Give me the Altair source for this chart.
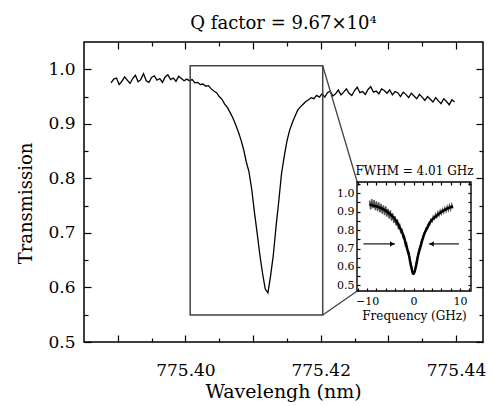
import altair as alt
import pandas as pd

# ---------------- data ----------------
# main spectrum: sampled every 0.0004 nm starting at 775.389 nm
WL_START = 775.389
WL_STEP = 0.0004
transmission = [
    0.975, 0.982, 0.984, 0.972, 0.978, 0.986, 0.980, 0.974, 0.983, 0.989,
    0.977, 0.981, 0.992, 0.979, 0.976, 0.985, 0.988, 0.980, 0.983, 0.976,
    0.986, 0.990, 0.981, 0.984, 0.978, 0.987, 0.983, 0.979,
    0.982, 0.979, 0.981, 0.975, 0.976, 0.972, 0.973, 0.969, 0.970, 0.964,
    0.960, 0.957, 0.950, 0.945, 0.936, 0.930, 0.921, 0.911, 0.899, 0.886,
    0.871, 0.853, 0.830, 0.812, 0.780, 0.738, 0.700, 0.660, 0.626, 0.597,
    0.590, 0.622, 0.660, 0.712, 0.758, 0.808, 0.840, 0.868, 0.888, 0.902,
    0.914, 0.925, 0.931, 0.936, 0.941, 0.944, 0.948, 0.946, 0.952, 0.949,
    0.955,
    0.949, 0.957, 0.960, 0.951, 0.955, 0.962, 0.953, 0.958, 0.964, 0.956,
    0.952, 0.961, 0.967, 0.957, 0.959, 0.954, 0.963, 0.968, 0.958, 0.960,
    0.955, 0.964, 0.961, 0.956, 0.962, 0.953, 0.959, 0.957, 0.950, 0.958,
    0.954, 0.948, 0.956, 0.951, 0.946, 0.954, 0.949, 0.943, 0.950, 0.945,
    0.940, 0.948, 0.942, 0.937, 0.946, 0.941, 0.935, 0.944, 0.940,
]
wavelength = [round(WL_START + WL_STEP * i, 4) for i in range(len(transmission))]

# zoom box and connector lines (main-axis coordinates)
box_x = [775.4007, 775.4203]
box_y = [0.5494, 1.0064]
conn_x1 = [775.4203, 775.4203]
conn_y1 = [1.0064, 0.5494]
conn_x2 = [775.4254, 775.4254]
conn_y2 = [0.7933, 0.5935]

# inset: measured points (every 0.25 GHz from -9.5 GHz)
F_START = -9.5
F_STEP = 0.25
inset_meas = [
    0.960, 0.912, 0.968, 0.918, 0.962, 0.908, 0.955, 0.902, 0.950, 0.896,
    0.942, 0.889, 0.934, 0.881, 0.928, 0.873, 0.915, 0.862, 0.906, 0.851,
    0.891, 0.838, 0.875, 0.824, 0.858, 0.804, 0.835, 0.782, 0.808, 0.754,
    0.773, 0.718, 0.728, 0.676, 0.678, 0.624, 0.618, 0.564, 0.568, 0.580,
    0.616, 0.646, 0.666, 0.700, 0.716, 0.747, 0.752, 0.783, 0.782, 0.810,
    0.805, 0.835, 0.829, 0.856, 0.846, 0.874, 0.862, 0.886, 0.870, 0.897,
    0.879, 0.905, 0.887, 0.912, 0.896, 0.919, 0.901, 0.927, 0.907, 0.933,
    0.912, 0.938, 0.917,
]
inset_freq = [F_START + F_STEP * i for i in range(len(inset_meas))]

# inset: fitted curve
fit_freq = [-9.5, -9, -8, -7, -6, -5, -4, -3.5, -3, -2.5, -2, -1.5, -1, -0.5, 0,
            0.5, 1, 1.5, 2, 2.5, 3, 3.5, 4, 5, 6, 7, 8, 8.5]
fit_trans = [0.938, 0.935, 0.928, 0.918, 0.905, 0.885, 0.858, 0.840, 0.815, 0.790,
             0.755, 0.710, 0.665, 0.600, 0.562, 0.600, 0.665, 0.710, 0.755, 0.790,
             0.815, 0.840, 0.856, 0.878, 0.898, 0.913, 0.924, 0.928]

# inset arrows (FWHM markers)
arrow_x1 = [-10.8, 9.8]
arrow_x2 = [-4.0, 3.3]
arrow_y = [0.725, 0.725]
head_x = [-4.6, 3.9]
head_dir = ["r", "l"]

# inset frame extent
inset_xdom = [-12.2, 12.4]
inset_ydom = [0.47, 1.06]

# ---------------- tables ----------------
main_df = pd.DataFrame({"wl": wavelength, "t": transmission})
box_df = pd.DataFrame({"x1": [box_x[0]], "x2": [box_x[1]], "y1": [box_y[0]], "y2": [box_y[1]]})
conn_df = pd.DataFrame({"x1": conn_x1, "y1": conn_y1, "x2": conn_x2, "y2": conn_y2})
meas_df = pd.DataFrame({"f": inset_freq, "t": inset_meas})
fit_df = pd.DataFrame({"f": fit_freq, "t": fit_trans})
frame_df = pd.DataFrame({"x1": [inset_xdom[0]], "x2": [inset_xdom[1]],
                         "y1": [inset_ydom[0]], "y2": [inset_ydom[1]]})
arrow_df = pd.DataFrame({"x1": arrow_x1, "x2": arrow_x2, "y": arrow_y})
head_df = pd.DataFrame({"x": head_x, "y": arrow_y, "d": head_dir})

# ---------------- layout ----------------
W, H = 399, 300
FONT = "DejaVu Serif"
IN_L, IN_R, IN_T, IN_B = 273, 387, 140, 249   # inset frame inside the plot area (px)
MX = dict(domain=[775.385, 775.444], nice=False, zero=False)
MY = dict(domain=[0.5, 1.05], nice=False, zero=False)
IX = dict(domain=inset_xdom, range=[IN_L, IN_R], nice=False, zero=False)
IY = dict(domain=inset_ydom, range=[IN_B, IN_T], nice=False, zero=False)

x_major = [775.39, 775.40, 775.41, 775.42, 775.43, 775.44]
x_minor = [775.395, 775.405, 775.415, 775.425, 775.435]
y_major = [0.5, 0.6, 0.7, 0.8, 0.9, 1.0]
y_minor = [0.55, 0.65, 0.75, 0.85, 0.95]
ix_ticks = [-12, -10, -8, -6, -4, -2, 0, 2, 4, 6, 8, 10, 12]
iy_ticks = [0.5, 0.55, 0.6, 0.65, 0.7, 0.75, 0.8, 0.85, 0.9, 0.95, 1.0, 1.05]


def tick_axis(orient, values, size, offset, **kw):
    base = dict(orient=orient, values=values, tickSize=size, offset=offset,
                domain=False, grid=False, ticks=True, tickColor="black",
                tickWidth=1.2, zindex=1, labelFlush=False, labelOverlap=False)
    if "labels" not in kw:
        base["labels"] = False
    if "title" not in kw:
        base["title"] = None
    base.update(kw)
    return alt.Axis(**base)


main_line = alt.Chart(main_df).mark_line(color="black", strokeWidth=1.3).encode(
    x=alt.X("wl:Q", scale=alt.Scale(**MX),
            axis=tick_axis("bottom", x_major, 7, -7, labels=True, format=".2f",
                           labelExpr="indexof(['775.40','775.42','775.44'], datum.label) >= 0 ? datum.label : ''",
                           labelFontSize=17, labelPadding=20,
                           title="Wavelengh (nm)", titleFontSize=19, titlePadding=4,
                           titleX=199)),
    y=alt.Y("t:Q", scale=alt.Scale(**MY),
            axis=tick_axis("left", y_major, 7, -7, labels=True, format=".1f",
                           labelFontSize=17, labelPadding=9,
                           title="Transmission", titleFontSize=18, titlePadding=12,
                           titleY=161)),
)

zoom_box = alt.Chart(box_df).mark_rect(fillOpacity=0, stroke="#444", strokeWidth=1.5).encode(
    x=alt.X("x1:Q", scale=alt.Scale(**MX), axis=tick_axis("bottom", x_minor, 4, -4)),
    x2="x2",
    y=alt.Y("y1:Q", scale=alt.Scale(**MY), axis=tick_axis("left", y_minor, 4, -4)),
    y2="y2",
)

connectors = alt.Chart(conn_df).mark_rule(color="#444", strokeWidth=1.3).encode(
    x=alt.X("x1:Q", scale=alt.Scale(**MX), axis=tick_axis("top", x_major, 7, -7)),
    x2="x2",
    y=alt.Y("y1:Q", scale=alt.Scale(**MY), axis=tick_axis("right", y_major, 7, -7)),
    y2="y2",
)

ghost = alt.Chart(main_df).mark_point(opacity=0).encode(
    x=alt.X("wl:Q", scale=alt.Scale(**MX), axis=tick_axis("top", x_minor, 4, -4)),
    y=alt.Y("t:Q", scale=alt.Scale(**MY), axis=tick_axis("right", y_minor, 4, -4)),
)

inset_frame = alt.Chart(frame_df).mark_rect(fillOpacity=0, stroke="black", strokeWidth=1.4).encode(
    x=alt.X("x1:Q", scale=alt.Scale(**IX), axis=None),
    x2="x2",
    y=alt.Y("y1:Q", scale=alt.Scale(**IY), axis=None),
    y2="y2",
)

inset_meas_layer = alt.Chart(meas_df).mark_line(color="#555", strokeWidth=1.5).encode(
    x=alt.X("f:Q", scale=alt.Scale(**IX),
            axis=tick_axis("bottom", ix_ticks, 3, -(H - IN_B + 3), labels=True,
                           labelExpr="datum.value % 10 === 0 ? datum.label : ''",
                           labelFontSize=11, labelPadding=4,
                           title="Frequency (GHz)", titleFontSize=12, titlePadding=4)),
    y=alt.Y("t:Q", scale=alt.Scale(**IY),
            axis=tick_axis("left", iy_ticks, 3, -(IN_L + 3), labels=True,
                           labelExpr="abs(datum.value * 10 - round(datum.value * 10)) < 0.001 ? format(datum.value, '.1f') : ''",
                           labelFontSize=11, labelPadding=3)),
)

inset_fit = alt.Chart(fit_df).mark_line(color="black", strokeWidth=2.5, interpolate="monotone").encode(
    x=alt.X("f:Q", scale=alt.Scale(**IX),
            axis=tick_axis("top", ix_ticks, 3, -(IN_T + 3),
                           title="FWHM = 4.01 GHz", titleFontSize=12, titlePadding=4)),
    y=alt.Y("t:Q", scale=alt.Scale(**IY), axis=tick_axis("right", iy_ticks, 3, -(W - IN_R + 3))),
)

arrows = alt.Chart(arrow_df).mark_rule(color="black", strokeWidth=1.1).encode(
    x=alt.X("x1:Q", scale=alt.Scale(**IX), axis=None),
    x2="x2",
    y=alt.Y("y:Q", scale=alt.Scale(**IY), axis=None),
)

heads = alt.Chart(head_df).mark_point(filled=True, color="black", size=26, opacity=1).encode(
    x=alt.X("x:Q", scale=alt.Scale(**IX), axis=None),
    y=alt.Y("y:Q", scale=alt.Scale(**IY), axis=None),
    shape=alt.Shape("d:N", scale=alt.Scale(domain=["r", "l"], range=["triangle-right", "triangle-left"]),
                    legend=None),
)

chart = alt.layer(
    main_line, zoom_box, connectors, ghost,
    inset_frame, inset_meas_layer, inset_fit, arrows, heads,
).resolve_scale(
    x="independent", y="independent", shape="independent"
).properties(
    width=W, height=H,
    title=alt.TitleParams("Q factor = 9.67×10⁴", font=FONT, fontSize=18, fontWeight="normal",
                          color="black", anchor="middle", frame="group",
                          baseline="alphabetic", offset=-6),
    autosize=alt.AutoSizeParams(type="none"),
    padding={"left": 76, "top": 34, "right": 3, "bottom": 60},
).configure_view(
    stroke="black", strokeWidth=1.5
).configure_axis(
    labelFont=FONT, titleFont=FONT, labelColor="black", titleColor="black",
    titleFontWeight="normal",
)

chart.save("out.html", embed_options={"renderer": "svg", "actions": False})
